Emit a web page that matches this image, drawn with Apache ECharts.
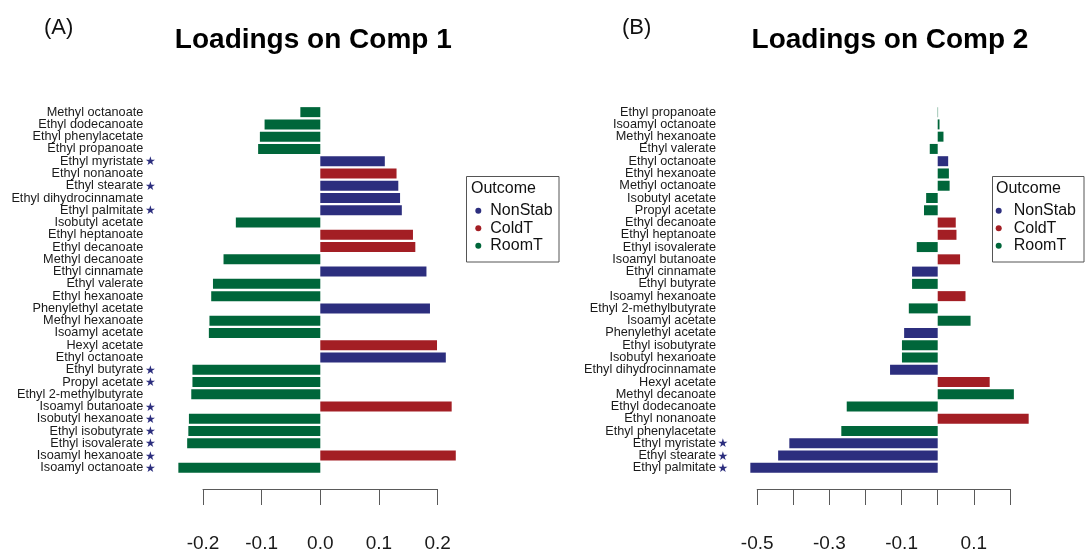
<!DOCTYPE html>
<html>
<head>
<meta charset="utf-8">
<script src="https://cdn.jsdelivr.net/npm/echarts@6/dist/echarts.min.js"></script>
<style>
  html, body { margin: 0; padding: 0; background: #fff; }
  #chart { width: 1085px; height: 554px; }
</style>
</head>
<body>
<div id="chart"></div>
<script>
// Compounds on component 1, listed top to bottom
const compsA = [
  'Methyl octanoate', 'Ethyl dodecanoate', 'Ethyl phenylacetate', 'Ethyl propanoate',
  'Ethyl myristate', 'Ethyl nonanoate', 'Ethyl stearate', 'Ethyl dihydrocinnamate',
  'Ethyl palmitate', 'Isobutyl acetate', 'Ethyl heptanoate', 'Ethyl decanoate',
  'Methyl decanoate', 'Ethyl cinnamate', 'Ethyl valerate', 'Ethyl hexanoate',
  'Phenylethyl acetate', 'Methyl hexanoate', 'Isoamyl acetate', 'Hexyl acetate',
  'Ethyl octanoate', 'Ethyl butyrate', 'Propyl acetate', 'Ethyl 2-methylbutyrate',
  'Isoamyl butanoate', 'Isobutyl hexanoate', 'Ethyl isobutyrate', 'Ethyl isovalerate',
  'Isoamyl hexanoate', 'Isoamyl octanoate'
];
const loadA = [
  -0.034, -0.095, -0.103, -0.106,
  0.110, 0.130, 0.133, 0.136,
  0.139, -0.144, 0.158, 0.162,
  -0.165, 0.181, -0.183, -0.186,
  0.187, -0.189, -0.190, 0.199,
  0.214, -0.218, -0.218, -0.220,
  0.224, -0.224, -0.225, -0.227,
  0.231, -0.242
];
const outcomeA = [
  'RoomT', 'RoomT', 'RoomT', 'RoomT',
  'NonStab', 'ColdT', 'NonStab', 'NonStab',
  'NonStab', 'RoomT', 'ColdT', 'ColdT',
  'RoomT', 'NonStab', 'RoomT', 'RoomT',
  'NonStab', 'RoomT', 'RoomT', 'ColdT',
  'NonStab', 'RoomT', 'RoomT', 'RoomT',
  'ColdT', 'RoomT', 'RoomT', 'RoomT',
  'ColdT', 'RoomT'
];
const starredA = [
  'Ethyl myristate', 'Ethyl stearate', 'Ethyl palmitate', 'Ethyl butyrate',
  'Propyl acetate', 'Isoamyl butanoate', 'Isobutyl hexanoate', 'Ethyl isobutyrate',
  'Ethyl isovalerate', 'Isoamyl hexanoate', 'Isoamyl octanoate'
];

// Compounds on component 2, listed top to bottom
const compsB = [
  'Ethyl propanoate', 'Isoamyl octanoate', 'Methyl hexanoate', 'Ethyl valerate',
  'Ethyl octanoate', 'Ethyl hexanoate', 'Methyl octanoate', 'Isobutyl acetate',
  'Propyl acetate', 'Ethyl decanoate', 'Ethyl heptanoate', 'Ethyl isovalerate',
  'Isoamyl butanoate', 'Ethyl cinnamate', 'Ethyl butyrate', 'Isoamyl hexanoate',
  'Ethyl 2-methylbutyrate', 'Isoamyl acetate', 'Phenylethyl acetate', 'Ethyl isobutyrate',
  'Isobutyl hexanoate', 'Ethyl dihydrocinnamate', 'Hexyl acetate', 'Methyl decanoate',
  'Ethyl dodecanoate', 'Ethyl nonanoate', 'Ethyl phenylacetate', 'Ethyl myristate',
  'Ethyl stearate', 'Ethyl palmitate'
];
const loadB = [
  0.001, 0.005, 0.016, -0.022,
  0.029, 0.031, 0.033, -0.032,
  -0.038, 0.050, 0.052, -0.058,
  0.062, -0.071, -0.071, 0.077,
  -0.080, 0.091, -0.093, -0.099,
  -0.099, -0.132, 0.144, 0.211,
  -0.252, 0.252, -0.267, -0.411,
  -0.442, -0.519
];
const outcomeB = [
  'RoomT', 'RoomT', 'RoomT', 'RoomT',
  'NonStab', 'RoomT', 'RoomT', 'RoomT',
  'RoomT', 'ColdT', 'ColdT', 'RoomT',
  'ColdT', 'NonStab', 'RoomT', 'ColdT',
  'RoomT', 'RoomT', 'NonStab', 'RoomT',
  'RoomT', 'NonStab', 'ColdT', 'RoomT',
  'RoomT', 'ColdT', 'RoomT', 'NonStab',
  'NonStab', 'NonStab'
];
const starredB = ['Ethyl myristate', 'Ethyl stearate', 'Ethyl palmitate'];

// Axis tick labels
const ticksA = ['-0.2', '-0.1', '0.0', '0.1', '0.2'];
const ticksB = ['-0.5', '', '-0.3', '', '-0.1', '', '0.1', ''];

const outcomes = ['NonStab', 'ColdT', 'RoomT'];
const colors = { NonStab: '#2c2e7e', ColdT: '#a31e24', RoomT: '#00663a' };

const FONT = '"Liberation Sans", Arial, Helvetica, sans-serif';
const STAR = '#2c2e7e';

function catAxis(gridIndex, names, starred) {
  const starSet = new Set(starred);
  return {
    type: 'category', gridIndex, data: names, inverse: true,
    axisLine: { show: false }, axisTick: { show: false }, splitLine: { show: false },
    axisLabel: {
      interval: 0, margin: gridIndex === 0 ? 16.4 : 9.2,
      fontFamily: FONT, fontSize: 12.7, color: '#1a1a1a',
      formatter: v => v + (starSet.has(v) ? '{s|\u2605}' : '{p|}'),
      rich: {
        s: { width: 14, align: 'center', color: STAR, fontSize: 12, fontFamily: '"DejaVu Sans", sans-serif', padding: [2, 0, 0, 0] },
        p: { width: 14 }
      }
    }
  };
}

function valAxisHidden(gridIndex, min, max) {
  return { type: 'value', gridIndex, min, max, show: false, splitLine: { show: false } };
}

function tickAxis(gridIndex, min, max, labels) {
  return {
    type: 'value', gridIndex, min, max, interval: 0.1, position: 'bottom',
    splitLine: { show: false },
    axisLine: { show: true, lineStyle: { color: '#5a5a5a', width: 1 } },
    axisTick: { show: true, length: 16, lineStyle: { color: '#5a5a5a', width: 1 } },
    axisLabel: {
      margin: 45, fontFamily: FONT, fontSize: 19, color: '#1a1a1a',
      showMinLabel: true, showMaxLabel: true,
      formatter: v => {
        const i = Math.round((v - min) / 0.1);
        return labels[i] !== undefined ? labels[i] : '';
      }
    }
  };
}

function panelSeries(xIdx, yIdx, vals, groups, stack) {
  return outcomes.map(o => ({
    name: o, type: 'bar', xAxisIndex: xIdx, yAxisIndex: yIdx, stack,
    barWidth: 10, itemStyle: { color: colors[o] },
    data: vals.map((v, i) => groups[i] === o ? v : '-'),
    animation: false
  }));
}

function legendAt(left, itemWidth) {
  return {
    data: outcomes, orient: 'vertical', left, top: 202, padding: 0,
    icon: 'circle', itemWidth, itemHeight: 6, itemGap: 0, selectedMode: false,
    textStyle: { fontFamily: FONT, fontSize: 16, lineHeight: 17.5, color: '#111' }
  };
}

const PX_A = 586.5, ZERO_A = 320.3;
const PX_B = 361.0, ZERO_B = 937.7;

const option = {
  backgroundColor: '#fff',
  animation: false,
  grid: [
    { left: ZERO_A - 0.25 * PX_A, width: 0.5 * PX_A, top: 106, height: 368 },
    { left: ZERO_B - 0.55 * PX_B, width: 0.85 * PX_B, top: 106, height: 368 },
    { left: ZERO_A - 0.2 * PX_A, width: 0.4 * PX_A, top: 488, height: 1 },
    { left: ZERO_B - 0.5 * PX_B, width: 0.7 * PX_B, top: 488, height: 1 }
  ],
  xAxis: [
    valAxisHidden(0, -0.25, 0.25),
    valAxisHidden(1, -0.55, 0.3),
    tickAxis(2, -0.2, 0.2, ticksA),
    tickAxis(3, -0.5, 0.2, ticksB)
  ],
  yAxis: [
    catAxis(0, compsA, starredA),
    catAxis(1, compsB, starredB),
    { type: 'value', gridIndex: 2, show: false },
    { type: 'value', gridIndex: 3, show: false }
  ],
  legend: [legendAt(475.3, 14), legendAt(995.7, 20)],
  series: [
    ...panelSeries(0, 0, loadA, outcomeA, 'A'),
    ...panelSeries(1, 1, loadB, outcomeB, 'B')
  ],
  graphic: [
    { type: 'text', left: 44, top: 17, style: { text: '(A)', font: '22px ' + FONT, fill: '#111' } },
    { type: 'text', x: 313.3, y: 40, style: { text: 'Loadings on Comp 1', font: 'bold 28px ' + FONT, fill: '#000', align: 'center', verticalAlign: 'middle' } },
    { type: 'text', left: 622, top: 17, style: { text: '(B)', font: '22px ' + FONT, fill: '#111' } },
    { type: 'text', x: 890, y: 40, style: { text: 'Loadings on Comp 2', font: 'bold 28px ' + FONT, fill: '#000', align: 'center', verticalAlign: 'middle' } },
    { type: 'rect', shape: { x: 466.5, y: 176.5, width: 92.5, height: 85.5 }, style: { fill: 'none', stroke: '#555', lineWidth: 1 } },
    { type: 'text', x: 471, y: 189, style: { text: 'Outcome', font: '16px ' + FONT, fill: '#111', verticalAlign: 'middle' } },
    { type: 'rect', shape: { x: 992.5, y: 176.5, width: 91.5, height: 85.5 }, style: { fill: 'none', stroke: '#555', lineWidth: 1 } },
    { type: 'text', x: 996, y: 189, style: { text: 'Outcome', font: '16px ' + FONT, fill: '#111', verticalAlign: 'middle' } }
  ]
};

const chart = echarts.init(document.getElementById('chart'), null, { renderer: 'canvas' });
chart.setOption(option);
</script>
</body>
</html>
